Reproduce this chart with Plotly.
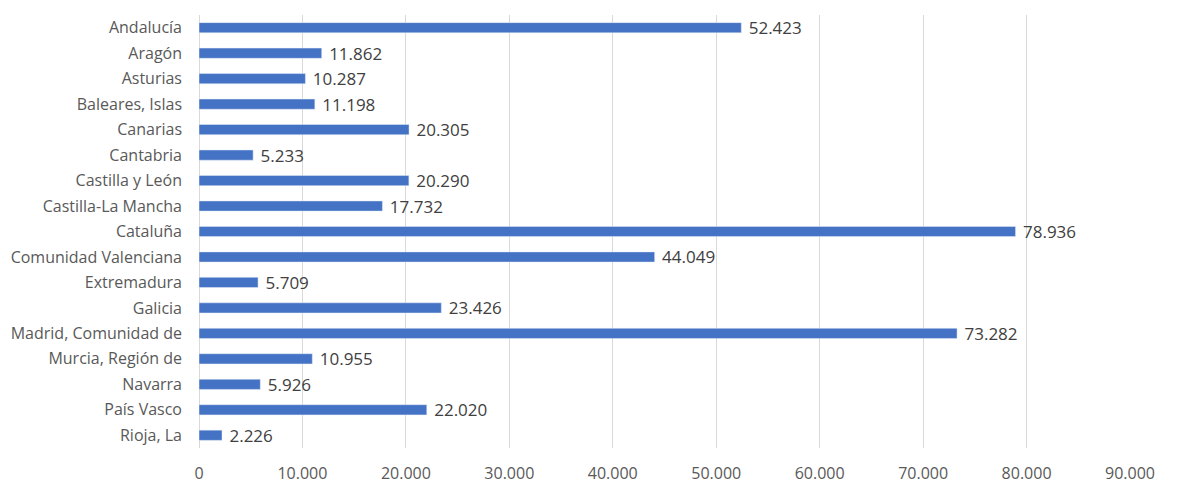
import plotly.graph_objects as go

regions = ["Andalucía", "Aragón", "Asturias", "Baleares, Islas", "Canarias", "Cantabria",
           "Castilla y León", "Castilla-La Mancha", "Cataluña", "Comunidad Valenciana",
           "Extremadura", "Galicia", "Madrid, Comunidad de", "Murcia, Región de",
           "Navarra", "País Vasco", "Rioja, La"]
values = [52423, 11862, 10287, 11198, 20305, 5233, 20290, 17732, 78936, 44049,
          5709, 23426, 73282, 10955, 5926, 22020, 2226]
x_ticks = [0, 10000, 20000, 30000, 40000, 50000, 60000, 70000, 80000, 90000]

fig = go.Figure(go.Bar(
    x=values, y=regions, orientation="h",
    marker_color="#4472C4", width=0.4,
    texttemplate=" %{x:,}", textposition="outside",
    constraintext="none",
    textfont=dict(size=17, color="#404040", family="Open Sans, Noto Sans, sans-serif"),
    cliponaxis=False,
))
fig.update_layout(
    width=1180, height=492,
    margin=dict(l=191, r=58, t=7, b=52, autoexpand=False),
    paper_bgcolor="white", plot_bgcolor="white",
    separators=",.",
    font=dict(family="Open Sans, Noto Sans, sans-serif", color="#595959", size=15),
    showlegend=False,
)
fig.update_xaxes(range=[0, 90000], tickvals=x_ticks, tickformat=",",
                 showgrid=True, gridcolor="#D9D9D9", gridwidth=1,
                 zeroline=True, zerolinecolor="#D9D9D9", zerolinewidth=1,
                 automargin=False, ticklabelstandoff=14,
                 tickfont=dict(size=16, color="#595959"), ticks="", ticklen=0)
fig.update_yaxes(autorange="reversed", showgrid=False, ticks="",
                 ticklabelstandoff=16, automargin=False,
                 tickfont=dict(size=16, color="#595959"))
fig.write_html("out.html")
